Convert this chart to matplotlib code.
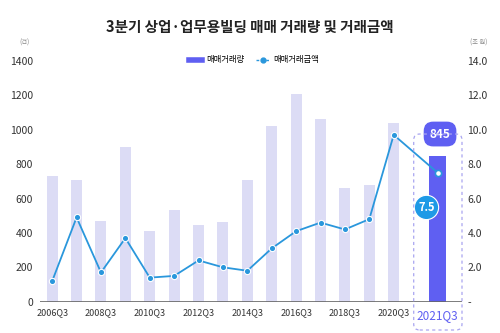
import numpy as np
import matplotlib.pyplot as plt
from matplotlib.lines import Line2D
from matplotlib.patches import FancyBboxPatch
from matplotlib.transforms import IdentityTransform

plt.rcParams['font.family'] = ['Noto Sans CJK KR', 'DejaVu Sans']

# data
quarters = ['2006Q3', '2007Q3', '2008Q3', '2009Q3', '2010Q3', '2011Q3', '2012Q3', '2013Q3',
            '2014Q3', '2015Q3', '2016Q3', '2017Q3', '2018Q3', '2019Q3', '2020Q3', '2021Q3']
volume = [730, 705, 470, 900, 410, 535, 445, 465, 705, 1020, 1210, 1060, 660, 680, 1040, 845]
amount = [1.2, 4.9, 1.7, 3.7, 1.4, 1.5, 2.4, 2.0, 1.8, 3.1, 4.1, 4.6, 4.2, 4.8, 9.7, 7.5]
left_ticks = [0, 200, 400, 600, 800, 1000, 1200, 1400]
right_ticks = [0, 2, 4, 6, 8, 10, 12, 14]
right_labels = ['-', '2.0', '4.0', '6.0', '8.0', '10.0', '12.0', '14.0']

light = '#dcdcf5'
purple = '#5f5ff2'
blue = '#2a97dc'
txt = '#333333'

x = np.arange(len(quarters), dtype=float)
x[-1] += 0.8  # last quarter set apart

fig = plt.figure(figsize=(5, 3.33), dpi=100)
ax = fig.add_axes([0.08, 0.094, 0.844, 0.723])
ax2 = ax.twinx()

ax.bar(x[:-1], volume[:-1], width=0.45, color=light, zorder=2)
ax.bar(x[-1], volume[-1], width=0.72, color=purple, zorder=2)
ax.axhline(0, color='#666666', lw=1.2, zorder=3)

ax.set_xlim(-0.5, 16.8)
ax.set_ylim(0, 1400)
ax2.set_ylim(0, 14)
ax.set_yticks(left_ticks)
ax.set_yticklabels([str(v) for v in left_ticks], fontsize=7.5, color=txt)
ax2.set_yticks(right_ticks)
ax2.set_yticklabels(right_labels, fontsize=7.5, color=txt)
ax.tick_params(axis='y', length=0, pad=5)
ax2.tick_params(axis='y', length=0, pad=4)
tick_idx = list(range(0, len(quarters) - 1, 2)) + [len(quarters) - 1]
ax.set_xticks(x[tick_idx])
ax.set_xticklabels([quarters[i] for i in tick_idx], fontsize=6.5, color=txt)
ax.tick_params(axis='x', length=0, pad=5)
lab = ax.get_xticklabels()[-1]
lab.set_color(purple)
lab.set_fontsize(8.5)
for a in (ax, ax2):
    for s in a.spines.values():
        s.set_visible(False)

ax2.plot(x, amount, color=blue, lw=1.3, zorder=4)
ax2.plot(x[:-1], amount[:-1], 'o', color=blue, ms=4.5, mec='white', mew=0.8, zorder=5)
ax2.plot(x[-1], amount[-1], 'o', color='white', ms=4.5, mec=blue, mew=1.2, zorder=5)

# dashed highlight box around the last quarter
fig.canvas.draw()
p_left = ax.transData.transform((x[-1] - 0.98, 0))[0]
p_right = ax.transData.transform((x[-1] + 1.0, 0))[0]
p_top = ax.transData.transform((0, 975))[1]
box = FancyBboxPatch((p_left, 3), p_right - p_left, p_top - 3,
                     boxstyle='round,pad=0,rounding_size=6', transform=IdentityTransform(),
                     fill=False, ec='#a9a5f0', lw=0.9, ls=(0, (2.5, 2.5)), clip_on=False, zorder=6)
fig.add_artist(box)

ax.text(x[-1] + 0.1, 975, str(volume[-1]), ha='center', va='center', fontsize=8.5,
        fontweight='bold', color='white', zorder=8, clip_on=False,
        bbox=dict(boxstyle='round,pad=0.5,rounding_size=0.8', fc=purple, ec='none'))
ax2.annotate(str(amount[-1]), (x[-1], amount[-1]), xytext=(-8, -25), textcoords='offset points',
             ha='center', va='center', fontsize=8, fontweight='bold', color='white', zorder=9,
             bbox=dict(boxstyle='circle,pad=0.35', fc='#1e9ae6', ec='white', lw=0.8))

fig.text(0.5, 0.918, '3분기 상업·업무용빌딩 매매 거래량 및 거래금액', ha='center', va='center',
         fontsize=10.5, fontweight='bold', color='#222222')
fig.text(0.038, 0.873, '(건)', fontsize=4.5, color='#888888', ha='left', va='center')
fig.text(0.957, 0.873, '(조 원)', fontsize=4.5, color='#888888', ha='center', va='center')

handles = [Line2D([], [], color=purple, lw=4),
           Line2D([], [], color=blue, lw=1, ls=(0, (2, 1.5)), marker='o', ms=3.5)]
fig.legend(handles, ['매매거래량', '매매거래금액'], loc='center', bbox_to_anchor=(0.508, 0.82),
           ncol=2, frameon=False, fontsize=6, handlelength=1.6, columnspacing=1.5, handletextpad=0.4)

fig.savefig('out.png', dpi=100)
